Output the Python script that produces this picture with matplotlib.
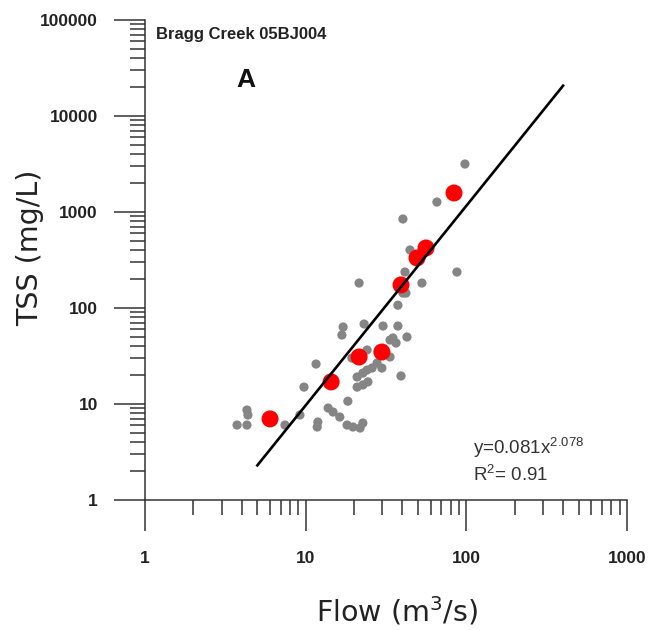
"""TSS vs flow rating curve for Bragg Creek (05BJ004), log-log scatter with power-law fit."""

import matplotlib

matplotlib.use("Agg")
import matplotlib.pyplot as plt
import numpy as np
from matplotlib.ticker import FixedLocator, LogLocator, NullFormatter, FuncFormatter

# Individual samples (grey)
gray_flow = [3.74, 4.31, 4.37, 4.31, 7.43, 9.21, 9.76, 11.6, 11.9, 11.8,
             13.8, 14.8, 16.3, 18.1, 19.7, 21.8, 22.7, 18.3, 17.1, 16.8,
             23.1, 30.3, 37.5, 37.5, 34.9, 36.5, 33.5, 42.7, 24.1, 22.7,
             24.1, 25.9, 20.9, 20.9, 22.7, 24.4, 29.8, 33.5, 39.2, 27.8,
             21.5, 52.9, 42.1, 98.0, 65.6, 40.3, 44.6, 87.4, 41.5, 40.3,
             19.4]
gray_tss = [6.04, 8.66, 7.68, 6.04, 6.04, 7.68, 15.0, 26.1, 6.49, 5.76,
            9.08, 8.25, 7.32, 6.04, 5.76, 5.62, 6.34, 10.7, 63.4, 52.3,
            68.1, 64.9, 64.9, 107, 48.7, 43.2, 46.4, 49.9, 36.5, 21.0,
            22.6, 23.7, 19.1, 15.0, 15.8, 17.0, 23.7, 30.9, 19.6, 26.7,
            182, 182, 143, 3160, 1270, 845, 402, 237, 237, 143,
            30.1]

# Binned means (red)
mean_flow = [6.0, 14.4, 21.5, 29.8, 39.2, 49.3, 56.1, 83.8]
mean_tss = [7.0, 17.0, 30.9, 34.8, 174, 332, 422, 1578]

# Power-law fit y = a * x^b
fit_a = 0.081
fit_b = 2.078
fit_r2 = 0.91
fit_flow_range = [5, 400]

x_ticks = [1, 10, 100, 1000]
y_ticks = [1, 10, 100, 1000, 10000, 100000]

LABEL_FONT = "DejaVu Sans"
TICK_FONT = "Liberation Sans"

fig = plt.figure(figsize=(6.48, 6.30), dpi=100)
ax = fig.add_axes([0.2238, 0.2063, 0.7438, 0.762])

ax.set_xscale("log")
ax.set_yscale("log")
ax.set_xlim(1, 1000)
ax.set_ylim(1, 100000)

ax.scatter(gray_flow, gray_tss, s=44, color="#858585", edgecolors="none", zorder=2)
ax.scatter(mean_flow, mean_tss, s=150, color="#ff0000", edgecolors="none", zorder=3)

fit_x = np.array(fit_flow_range, dtype=float)
fit_x = np.geomspace(fit_x[0], fit_x[1], 50)
ax.plot(fit_x, fit_a * fit_x ** fit_b, color="black", lw=1.9, zorder=4)

for side in ("top", "right"):
    ax.spines[side].set_visible(False)
for side in ("left", "bottom"):
    ax.spines[side].set_linewidth(1.1)
    ax.spines[side].set_color("#333333")

ax.xaxis.set_major_locator(FixedLocator(x_ticks))
ax.yaxis.set_major_locator(FixedLocator(y_ticks))
ax.xaxis.set_minor_locator(LogLocator(base=10, subs=np.arange(2, 10), numticks=20))
ax.yaxis.set_minor_locator(LogLocator(base=10, subs=np.arange(2, 10), numticks=20))
plain = FuncFormatter(lambda v, _: f"{v:g}" if v < 1e5 else "100000")
ax.xaxis.set_major_formatter(plain)
ax.yaxis.set_major_formatter(plain)
ax.xaxis.set_minor_formatter(NullFormatter())
ax.yaxis.set_minor_formatter(NullFormatter())

ax.tick_params(which="major", direction="out", length=22, width=1.1, color="#333333")
ax.tick_params(which="minor", direction="out", length=11, width=1.1, color="#333333")
ax.tick_params(axis="x", which="major", pad=15)
ax.tick_params(axis="y", which="major", pad=12)
for lab in ax.get_xticklabels() + ax.get_yticklabels():
    lab.set_fontfamily(TICK_FONT)
    lab.set_fontweight("bold")
    lab.set_fontsize(12.5)
    lab.set_color("#222222")

ax.text(0.022, 0.985, "Bragg Creek 05BJ004", transform=ax.transAxes, ha="left", va="top",
        family=TICK_FONT, fontweight="bold", fontsize=12, color="#222222")
ax.text(0.19, 0.875, "A", transform=ax.transAxes, ha="left", va="center",
        family=TICK_FONT, fontweight="bold", fontsize=19, color="#111111")

ax.text(0.68, 0.11, f"y={fit_a}x$^{{\\mathregular{{{fit_b}}}}}$", transform=ax.transAxes,
        ha="left", va="center", family=TICK_FONT, fontsize=13.5, color="#333333")
ax.text(0.68, 0.054, f"R$^{{\\mathregular{{2}}}}$= {fit_r2}", transform=ax.transAxes,
        ha="left", va="center", family=TICK_FONT, fontsize=13.5, color="#333333")

fig.text(397 / 648, 1 - 611 / 630, "Flow (m$^{\\mathregular{3}}$/s)", ha="center", va="center",
         family=LABEL_FONT, fontsize=20.5, color="#222222")
fig.text(30 / 648, 1 - 248 / 630, "TSS (mg/L)", ha="center", va="center", rotation=90,
         family=LABEL_FONT, fontsize=20.5, color="#222222")

fig.savefig("out.png", dpi=100)
